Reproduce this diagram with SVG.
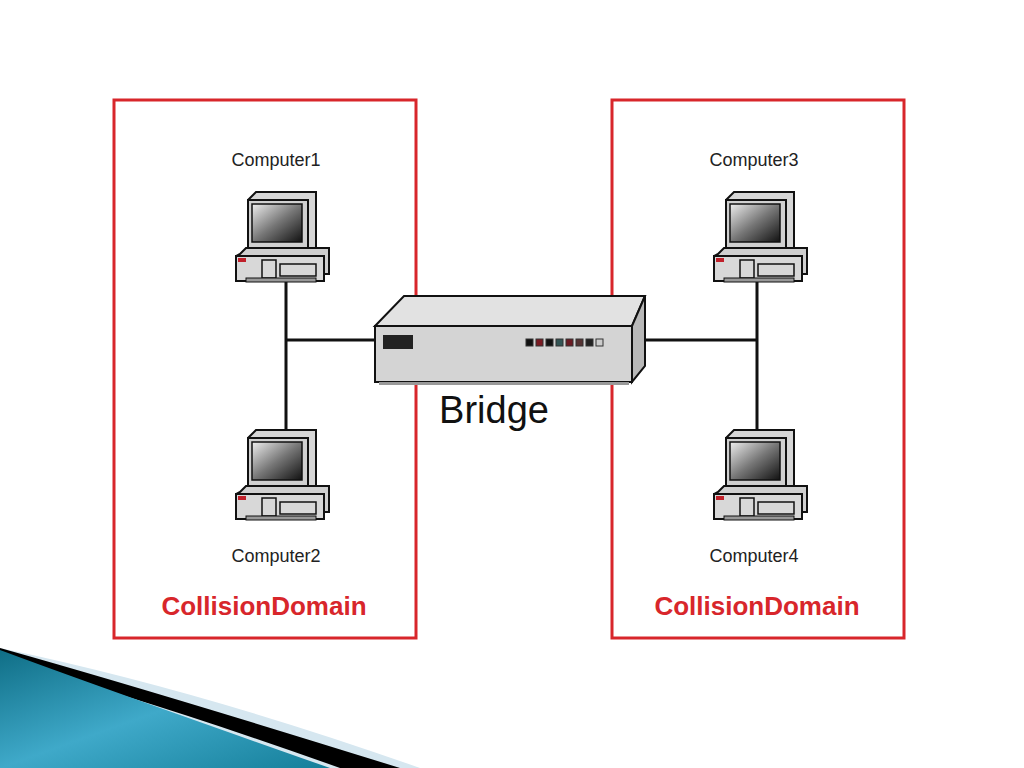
<svg xmlns="http://www.w3.org/2000/svg" width="1024" height="768" viewBox="0 0 1024 768">
<style>
.dom{fill:none;stroke:#d8262b;stroke-width:3}
.lbl{font-family:"Liberation Sans",Arial,sans-serif;font-size:18px;fill:#222}
.cd{font-family:"Liberation Sans",Arial,sans-serif;font-size:26px;font-weight:bold;fill:#d8262b}
.wire{stroke:#111;stroke-width:3;fill:none}
</style>
<defs>
<linearGradient id="scr" x1="0" y1="0" x2="1" y2="1"><stop offset="0" stop-color="#eee"/><stop offset="0.5" stop-color="#777"/><stop offset="1" stop-color="#111"/></linearGradient>
<linearGradient id="teal" x1="0" y1="0" x2="1" y2="1"><stop offset="0" stop-color="#0f6e86"/><stop offset="0.5" stop-color="#3fa9c9"/><stop offset="1" stop-color="#157f9a"/></linearGradient>
<g id="pc">
<polygon points="14,10 22,2 82,2 82,58 74,62 14,62" fill="#d6d6d6" stroke="#111" stroke-width="2"/>
<rect x="14" y="10" width="60" height="50" fill="#d0d0d0" stroke="#111" stroke-width="2"/>
<rect x="18" y="14" width="50" height="38" fill="url(#scr)" stroke="#111" stroke-width="1.5"/>
<polygon points="6,64 12,58 95,58 95,84 2,84 2,66" fill="#cfcfcf" stroke="#111" stroke-width="2"/>
<rect x="2" y="66" width="88" height="25" fill="#d8d8d8" stroke="#111" stroke-width="2"/>
<rect x="4" y="68" width="8" height="4" fill="#c0202a"/>
<rect x="28" y="70" width="14" height="18" fill="none" stroke="#111" stroke-width="1.5"/>
<rect x="46" y="74" width="36" height="12" fill="none" stroke="#111" stroke-width="1.5"/>
<rect x="12" y="88" width="70" height="4" fill="#999" stroke="#111"/>
</g>
</defs>
<rect width="1024" height="768" fill="#fff"/>
<g id="domains">
<rect class="dom" x="114" y="100" width="302" height="538"/>
<rect class="dom" x="612" y="100" width="292" height="538"/>
</g>
<g id="connectors">
<path class="wire" d="M286 282V432M286 340H376"/>
<path class="wire" d="M757 282V432M640 340H757"/>
</g>
<g id="computer1"><use href="#pc" x="234" y="190"/><text class="lbl" x="276" y="166" text-anchor="middle">Computer1</text></g>
<g id="computer2"><use href="#pc" x="234" y="428"/><text class="lbl" x="276" y="562" text-anchor="middle">Computer2</text></g>
<g id="computer3"><use href="#pc" x="712" y="190"/><text class="lbl" x="754" y="166" text-anchor="middle">Computer3</text></g>
<g id="computer4"><use href="#pc" x="712" y="428"/><text class="lbl" x="754" y="562" text-anchor="middle">Computer4</text></g>
<g id="bridge">
<polygon points="375,326 404,296 645,296 632,326" fill="#e2e2e2" stroke="#111" stroke-width="2"/>
<polygon points="632,326 645,296 645,366 632,382" fill="#b8b8b8" stroke="#111" stroke-width="2"/>
<rect x="375" y="326" width="257" height="56" fill="#d4d4d4" stroke="#111" stroke-width="2"/>
<rect x="379" y="382" width="250" height="3" fill="#999"/>
<rect x="383" y="335" width="30" height="14" fill="#222"/>
<g stroke="#333" stroke-width="1">
<rect x="526" y="339" width="7" height="7" fill="#111"/><rect x="536" y="339" width="7" height="7" fill="#7a1a22"/><rect x="546" y="339" width="7" height="7" fill="#111"/><rect x="556" y="339" width="7" height="7" fill="#355"/><rect x="566" y="339" width="7" height="7" fill="#6a1a22"/><rect x="576" y="339" width="7" height="7" fill="#533"/><rect x="586" y="339" width="7" height="7" fill="#222"/><rect x="596" y="339" width="7" height="7" fill="#ccc"/>
</g>
<text x="494" y="423" text-anchor="middle" font-family="Liberation Sans,Arial,sans-serif" font-size="38" fill="#111">Bridge</text>
</g>
<text class="cd" x="264" y="615" text-anchor="middle">CollisionDomain</text>
<text class="cd" x="757" y="615" text-anchor="middle">CollisionDomain</text>
<g id="decor">
<path d="M0 648 Q200 690 420 768 L0 768Z" fill="#d6e7f0"/>
<path d="M0 648 Q150 690 400 768 L340 768 Q150 700 0 660Z" fill="#000"/>
<path d="M0 650 Q80 680 330 768 L0 768Z" fill="url(#teal)"/>
</g>
</svg>
